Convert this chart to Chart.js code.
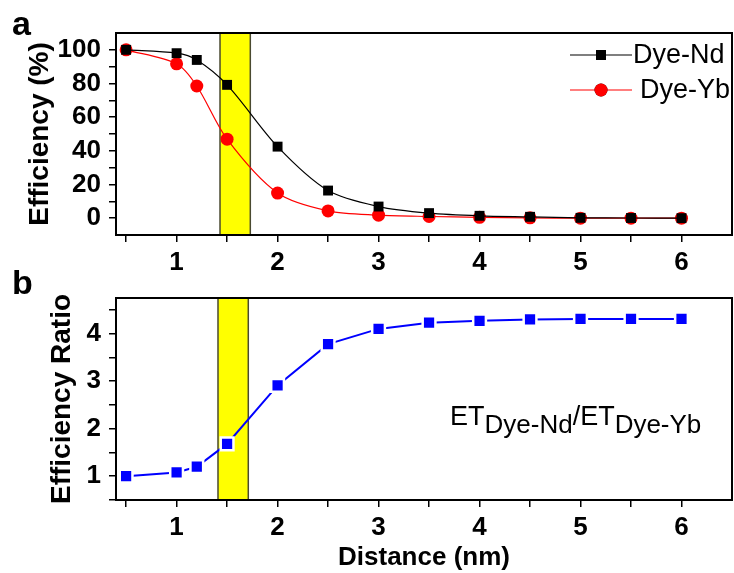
<!DOCTYPE html>
<html>
<head>
<meta charset="utf-8">
<script src="https://cdn.jsdelivr.net/npm/chart.js@4.4.1/dist/chart.umd.min.js"></script>
<style>
  html, body { margin: 0; padding: 0; background: #fff; }
  #wrap { position: relative; width: 734px; height: 573px; }
  #wrap canvas { position: absolute; left: 0; top: 0; }
</style>
</head>
<body>
<div id="wrap">
  <canvas id="effChart" width="734" height="573"></canvas>
  <canvas id="ratioChart" width="734" height="573"></canvas>
</div>
<script>
// Donor-acceptor distance (nm)
const distance = [0.5, 1, 1.2, 1.5, 2, 2.5, 3, 3.5, 4, 4.5, 5, 5.5, 6];
// Energy-transfer efficiency (%)
const dyeNd = [100, 98, 94, 79.2, 42.5, 16.4, 6.9, 3, 1.4, 0.8, 0.2, 0.1, 0];
const dyeYb = [100, 91.7, 78.5, 46.9, 14.9, 4.3, 1.8, 1, 0.5, 0.2, 0, 0, 0];
// ET(Dye-Nd) / ET(Dye-Yb)
const ratio = [1.0, 1.08, 1.2, 1.68, 2.91, 3.78, 4.1, 4.23, 4.27, 4.3, 4.31, 4.31, 4.31];

// Highlighted distance window
const bandTop = [1.43, 1.73];
const bandBottom = [1.41, 1.71];

// Tick positions and labelled ticks
const xTicks = [0.5, 1, 1.5, 2, 2.5, 3, 3.5, 4, 4.5, 5, 5.5, 6];
const xLabels = [1, 2, 3, 4, 5, 6];
const effTicks = [0, 10, 20, 30, 40, 50, 60, 70, 80, 90, 100];
const effLabels = [0, 20, 40, 60, 80, 100];
const ratioTicks = [0.5, 1, 1.5, 2, 2.5, 3, 3.5, 4, 4.5];
const ratioLabels = [1, 2, 3, 4];

const FAMILY = '"Liberation Sans", Arial, Helvetica, sans-serif';
Chart.defaults.color = '#000';
Chart.defaults.font.family = FAMILY;

const tickFont = { family: FAMILY, size: 26, weight: 'bold' };
const titleFont = { family: FAMILY, size: 28, weight: 'bold' };

const toPoints = ys => distance.map((x, i) => ({ x, y: ys[i] }));
const gridStyle = { display: true, drawOnChartArea: false, drawTicks: true, tickLength: 7, color: '#000', lineWidth: 1.5 };

function fixedTicks(values) {
  return scale => { scale.ticks = values.map(v => ({ value: v })); };
}
function labelFor(list) {
  return v => (list.includes(v) ? String(v) : '');
}

// Yellow distance window, drawn under the data
const bandPlugin = {
  id: 'band',
  beforeDatasetsDraw(chart, args, opts) {
    const { ctx, chartArea: a, scales: { x } } = chart;
    const x0 = x.getPixelForValue(opts.range[0]);
    const x1 = x.getPixelForValue(opts.range[1]);
    ctx.save();
    ctx.fillStyle = '#ffff00';
    ctx.fillRect(x0, a.top, x1 - x0, a.bottom - a.top);
    ctx.strokeStyle = '#4a4a30';
    ctx.lineWidth = 1.5;
    ctx.strokeRect(x0, a.top, x1 - x0, a.bottom - a.top);
    ctx.restore();
  }
};

// Closed frame around the plotting area
const framePlugin = {
  id: 'frame',
  afterDraw(chart) {
    const { ctx, chartArea: a } = chart;
    ctx.save();
    ctx.strokeStyle = '#000';
    ctx.lineWidth = 2;
    ctx.strokeRect(a.left, a.top, a.right - a.left, a.bottom - a.top);
    ctx.restore();
  }
};

// Panel letter in the top-left corner
const panelLabelPlugin = {
  id: 'panelLabel',
  afterDraw(chart, args, opts) {
    const { ctx } = chart;
    ctx.save();
    ctx.fillStyle = '#000';
    ctx.font = 'bold 34px ' + FAMILY;
    ctx.textBaseline = 'alphabetic';
    ctx.textAlign = 'left';
    ctx.fillText(opts.text, opts.x, opts.y);
    ctx.restore();
  }
};

// Legend inside the upper-right corner of the efficiency plot
const insideLegendPlugin = {
  id: 'insideLegend',
  afterDraw(chart) {
    const { ctx, chartArea: a } = chart;
    ctx.save();
    chart.data.datasets.forEach((ds, i) => {
      const y = a.top + 22 + i * 35;
      const x0 = a.right - 162, x1 = a.right - 100;
      ctx.strokeStyle = ds.borderColor;
      ctx.lineWidth = ds.borderWidth;
      ctx.beginPath();
      ctx.moveTo(x0, y);
      ctx.lineTo(x1, y);
      ctx.stroke();
      Chart.helpers.drawPoint(ctx, {
        pointStyle: ds.pointStyle,
        radius: ds.pointRadius,
        borderWidth: 0,
        rotation: 0
      }, (x0 + x1) / 2, y);
      ctx.fillStyle = ds.pointBackgroundColor;
      ctx.fill();
      ctx.fillStyle = '#000';
      ctx.font = '27px ' + FAMILY;
      ctx.textBaseline = 'middle';
      ctx.textAlign = 'left';
      ctx.fillText(ds.label, x1 + (i === 0 ? 1 : 8), y + 1);
    });
    ctx.restore();
  }
};

// Ratio annotation with subscripts
const ratioNotePlugin = {
  id: 'ratioNote',
  afterDraw(chart) {
    const { ctx, chartArea: a } = chart;
    const parts = [
      { t: 'ET', sub: false }, { t: 'Dye-Nd', sub: true },
      { t: '/', sub: false },
      { t: 'ET', sub: false }, { t: 'Dye-Yb', sub: true }
    ];
    let x = a.left + 334;
    const base = a.top + 127;
    ctx.save();
    ctx.fillStyle = '#000';
    ctx.textBaseline = 'alphabetic';
    ctx.textAlign = 'left';
    parts.forEach(p => {
      ctx.font = (p.sub ? '26px ' : '27px ') + FAMILY;
      ctx.fillText(p.t, x, base + (p.sub ? 8 : 0));
      x += ctx.measureText(p.t).width;
    });
    ctx.restore();
  }
};

const common = {
  responsive: false,
  animation: false,
  events: [],
  plugins: { legend: { display: false }, tooltip: { enabled: false } }
};

new Chart(document.getElementById('effChart'), {
  type: 'line',
  data: {
    datasets: [
      {
        label: 'Dye-Nd',
        data: toPoints(dyeNd),
        borderColor: '#000000',
        backgroundColor: '#000000',
        pointBackgroundColor: '#000000',
        pointBorderWidth: 0,
        borderWidth: 1.2,
        pointStyle: 'rect',
        pointRadius: 7,
        tension: 0.3
      },
      {
        label: 'Dye-Yb',
        data: toPoints(dyeYb),
        borderColor: '#ff0000',
        backgroundColor: '#ff0000',
        pointBackgroundColor: '#ff0000',
        pointBorderWidth: 0,
        borderWidth: 1.2,
        pointStyle: 'circle',
        pointRadius: 6.5,
        tension: 0.3
      }
    ]
  },
  options: {
    ...common,
    layout: { autoPadding: false, padding: { top: 33, right: 2, bottom: 298, left: 0 } },
    plugins: {
      ...common.plugins,
      band: { range: bandTop },
      panelLabel: { text: 'a', x: 12, y: 35 }
    },
    scales: {
      x: {
        type: 'linear', min: 0.4, max: 6.5,
        afterBuildTicks: fixedTicks(xTicks),
        afterFit: s => { s.height = 40; },
        ticks: { autoSkip: false, maxRotation: 0, padding: 5, font: tickFont, callback: labelFor(xLabels) },
        grid: gridStyle,
        border: { display: false }
      },
      y: {
        type: 'linear', min: -10, max: 110,
        afterBuildTicks: fixedTicks(effTicks),
        afterFit: s => { s.width = 116; },
        ticks: { autoSkip: false, padding: 8, font: tickFont, callback: labelFor(effLabels) },
        grid: gridStyle,
        border: { display: false },
        title: { display: true, text: 'Efficiency (%)', font: titleFont, padding: { top: 23, bottom: 0 } }
      }
    }
  },
  plugins: [bandPlugin, framePlugin, panelLabelPlugin, insideLegendPlugin]
});

new Chart(document.getElementById('ratioChart'), {
  type: 'line',
  data: {
    datasets: [
      {
        label: 'ET ratio',
        data: toPoints(ratio),
        borderColor: '#0000ff',
        backgroundColor: '#0000ff',
        pointBackgroundColor: '#0000ff',
        pointBorderColor: '#ffffff',
        pointBorderWidth: 2.5,
        borderWidth: 2,
        pointStyle: 'rect',
        pointRadius: 9,
        tension: 0
      }
    ]
  },
  options: {
    ...common,
    layout: { autoPadding: false, padding: { top: 298, right: 2, bottom: 0, left: 0 } },
    plugins: {
      ...common.plugins,
      band: { range: bandBottom },
      panelLabel: { text: 'b', x: 12, y: 294 }
    },
    scales: {
      x: {
        type: 'linear', min: 0.4, max: 6.5,
        afterBuildTicks: fixedTicks(xTicks),
        afterFit: s => { s.height = 73; },
        ticks: { autoSkip: false, maxRotation: 0, padding: 5, font: tickFont, callback: labelFor(xLabels) },
        grid: gridStyle,
        border: { display: false },
        title: { display: true, text: 'Distance (nm)', font: { family: FAMILY, size: 26, weight: 'bold' }, padding: { top: 0, bottom: 0 } }
      },
      y: {
        type: 'linear', min: 0.5, max: 4.75,
        afterBuildTicks: fixedTicks(ratioTicks),
        afterFit: s => { s.width = 116; },
        ticks: { autoSkip: false, padding: 8, font: tickFont, callback: labelFor(ratioLabels) },
        grid: gridStyle,
        border: { display: false },
        title: { display: true, text: 'Efficiency Ratio', font: titleFont, padding: { top: 45, bottom: 0 } }
      }
    }
  },
  plugins: [bandPlugin, framePlugin, panelLabelPlugin, ratioNotePlugin]
});
</script>
</body>
</html>
